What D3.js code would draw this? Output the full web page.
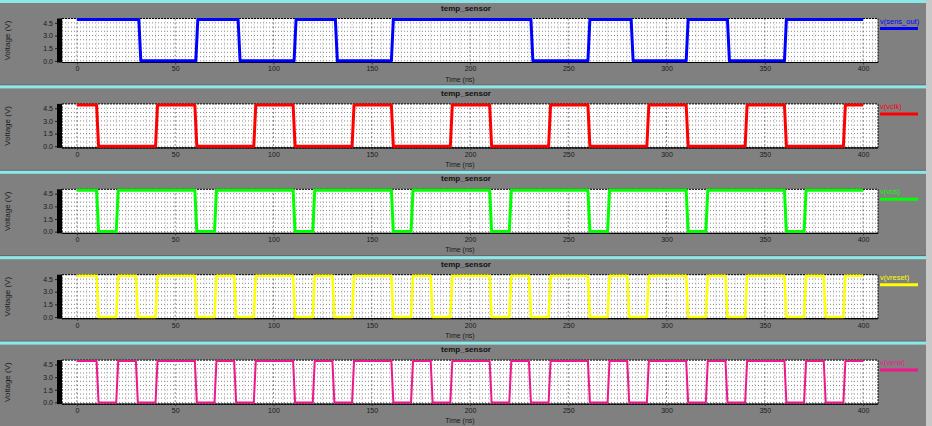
<!DOCTYPE html>
<html>
<head>
<meta charset="utf-8">
<script src="https://cdn.jsdelivr.net/npm/d3@7"></script>
<style>
  html, body { margin: 0; padding: 0; background: #c8c8c8; }
  svg { display: block; font-family: "Liberation Sans", Arial, sans-serif; }
  .tick text { fill: #1a1a1a; font-size: 7px; }
</style>
</head>
<body>
<div id="chart"></div>
<script>
// values (time in ns, voltage in V)
const timeTicks = [0, 50, 100, 150, 200, 250, 300, 350, 400];
const voltTicks = [0.0, 1.5, 3.0, 4.5];
const signalNames = ["v(sens_out)", "v(vclk)", "v(vcs)", "v(vreset)", "v(vena)"];
const signalColors = ["#0000ff", "#ff0000", "#00ff00", "#ffff00", "#f0168c"];
const signalWidths = [3, 3, 3, 2.5, 2];
const highLevel = 4.9;
const lowLevel = 0.0;
const tEnd = 400;

// [falling edge, rising edge] of each low phase
const sensOutLow = [[31.5, 60.5], [82, 110.5], [131.5, 160], [231, 260], [282, 310], [331, 360]];
const vclkLow = [[10, 40], [60, 90], [110, 140], [160, 190], [210, 240], [260, 290], [310, 340], [360, 390]];
const vcsLow = [[10, 20], [60, 70], [110, 120], [160, 170], [210, 220], [260, 270], [310, 320], [360, 370]];
const vresetLow = [[10, 20], [30, 40], [60, 70], [80, 90], [110, 120], [130, 140], [160, 170], [180, 190],
  [210, 220], [230, 240], [260, 270], [280, 290], [310, 320], [330, 340], [360, 370], [380, 390]];
const venaLow = [[10, 20], [30, 40], [60, 70], [80, 90], [110, 120], [130, 140], [160, 170], [180, 190],
  [210, 220], [230, 240], [260, 270], [280, 290], [310, 320], [330, 340], [360, 370], [380, 390]];
const signalLows = [sensOutLow, vclkLow, vcsLow, vresetLow, venaLow];

class WavePanel {
  constructor(_config) {
    this.config = {
      parent: _config.parent,
      top: _config.top,
      width: _config.width || 926,
      height: _config.height || 85.5,
      plot: _config.plot || { left: 62, right: 878, top: 18.5, bottom: 62.5 },
    };
    this.initVis();
  }

  initVis() {
    let vis = this;
    const c = vis.config;
    vis.g = c.parent.append("g").attr("transform", `translate(0,${c.top})`);

    vis.g.append("rect").attr("width", c.width).attr("height", c.height).attr("fill", "#808080");
    vis.g.append("rect").attr("y", c.height - 1).attr("width", c.width).attr("height", 1).attr("fill", "#5e5e5e");
    vis.g.append("rect").attr("width", c.width).attr("height", 3).attr("fill", "#8ce8e8");

    vis.xScale = d3.scaleLinear().domain([-7.6, 407.6]).range([c.plot.left, c.plot.right]);
    vis.yScale = d3.scaleLinear().domain([-0.2, 5.02]).range([c.plot.bottom, c.plot.top]);

    vis.g.append("text")
      .attr("x", 466).attr("y", 10.5)
      .attr("text-anchor", "middle")
      .attr("font-size", 8).attr("font-weight", "bold").attr("fill", "#111")
      .text("temp_sensor");

    // plot area
    vis.g.append("rect")
      .attr("x", c.plot.left).attr("y", c.plot.top)
      .attr("width", c.plot.right - c.plot.left).attr("height", c.plot.bottom - c.plot.top)
      .attr("fill", "#fff");
    vis.g.append("rect")
      .attr("x", c.plot.left - 5).attr("y", c.plot.top)
      .attr("width", 5).attr("height", c.plot.bottom - c.plot.top)
      .attr("fill", "#000");

    // dotted grid
    const hLines = d3.range(0, 10).map(i => i * 0.5);
    vis.g.append("g").selectAll("line").data(hLines).join("line")
      .attr("x1", c.plot.left).attr("x2", c.plot.right)
      .attr("y1", d => vis.yScale(d)).attr("y2", d => vis.yScale(d))
      .attr("stroke", "#6a6a6a").attr("stroke-width", 0.8).attr("stroke-dasharray", "1,2");
    const vLines = d3.range(-5, 410, 5).filter(d => d % 50 !== 0);
    vis.g.append("g").selectAll("line").data(vLines).join("line")
      .attr("x1", d => vis.xScale(d)).attr("x2", d => vis.xScale(d))
      .attr("y1", c.plot.top).attr("y2", c.plot.bottom)
      .attr("stroke", "#b4b4b4").attr("stroke-width", 0.8).attr("stroke-dasharray", "1,2");
    vis.g.append("g").selectAll("line").data(timeTicks).join("line")
      .attr("x1", d => vis.xScale(d)).attr("x2", d => vis.xScale(d))
      .attr("y1", c.plot.top).attr("y2", c.plot.bottom)
      .attr("stroke", "#666").attr("stroke-width", 0.8).attr("stroke-dasharray", "2,2");

    // border
    vis.g.append("rect")
      .attr("x", c.plot.left).attr("y", c.plot.top)
      .attr("width", c.plot.right - c.plot.left).attr("height", c.plot.bottom - c.plot.top)
      .attr("fill", "none").attr("stroke", "#000").attr("stroke-width", 1).attr("stroke-dasharray", "2,1");
    vis.g.append("line")
      .attr("x1", c.plot.left).attr("x2", c.plot.right)
      .attr("y1", c.plot.bottom).attr("y2", c.plot.bottom)
      .attr("stroke", "#000").attr("stroke-width", 1.2);

    // axes
    vis.g.append("g")
      .attr("transform", `translate(0,${c.plot.bottom})`)
      .call(d3.axisBottom(vis.xScale).tickValues(timeTicks).tickSize(2).tickPadding(2).tickFormat(d3.format("d")))
      .call(g => g.select(".domain").remove())
      .call(g => g.selectAll(".tick line").attr("stroke", "#333"));
    vis.g.append("g")
      .attr("transform", `translate(${c.plot.left - 5},0)`)
      .call(d3.axisLeft(vis.yScale).tickValues(voltTicks).tickSize(2).tickPadding(2).tickFormat(d3.format(".1f")))
      .call(g => g.select(".domain").remove())
      .call(g => g.selectAll(".tick line").attr("stroke", "#222"));

    vis.g.append("text")
      .attr("x", 460).attr("y", c.plot.bottom + 19)
      .attr("text-anchor", "middle").attr("font-size", 7).attr("fill", "#1a1a1a")
      .text("Time (ns)");
    vis.g.append("text")
      .attr("transform", `translate(10,${(c.plot.top + c.plot.bottom) / 2}) rotate(-90)`)
      .attr("text-anchor", "middle").attr("font-size", 8).attr("fill", "#1a1a1a")
      .text("Voltage (V)");
  }

  updateVis(name, color, width, lows) {
    let vis = this;
    const c = vis.config;
    const edge = 1;
    const pts = [[0, highLevel]];
    lows.forEach(([f, r]) => {
      pts.push([f, highLevel], [f + edge, lowLevel], [r, lowLevel], [r + edge, highLevel]);
    });
    pts.push([tEnd, highLevel]);

    vis.g.append("path")
      .datum(pts)
      .attr("fill", "none")
      .attr("stroke", color)
      .attr("stroke-width", width)
      .attr("stroke-linejoin", "round")
      .attr("d", d3.line().x(d => vis.xScale(d[0])).y(d => vis.yScale(d[1])));

    vis.g.append("text")
      .attr("x", c.plot.right + 2).attr("y", c.plot.top + 5)
      .attr("font-size", 7.5).attr("fill", color)
      .text(name);
    vis.g.append("line")
      .attr("x1", c.plot.right + 2).attr("x2", c.plot.right + 40)
      .attr("y1", c.plot.top + 10).attr("y2", c.plot.top + 10)
      .attr("stroke", color).attr("stroke-width", 3);
  }
}

const svg = d3.select("#chart").append("svg").attr("width", 932).attr("height", 426);
svg.append("rect").attr("width", 932).attr("height", 426).attr("fill", "#c8c8c8");

signalNames.forEach((name, i) => {
  const panel = new WavePanel({ parent: svg, top: i * 85.4 });
  panel.updateVis(name, signalColors[i], signalWidths[i], signalLows[i]);
});
</script>
</body>
</html>
